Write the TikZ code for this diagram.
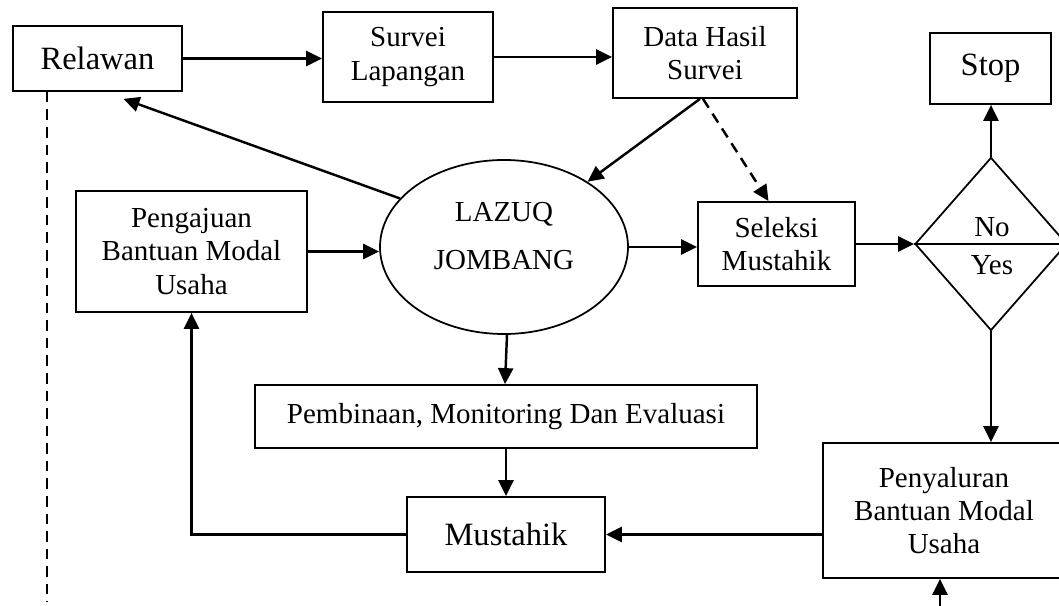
\documentclass[tikz,border=0pt]{standalone}
\usepackage{fontspec}
\setmainfont{Liberation Serif}
\usepackage{tikz}
\usetikzlibrary{shapes.geometric, arrows.meta, positioning}

\begin{document}
\begin{tikzpicture}[
    procbox/.style={rectangle, draw, line width=1pt, align=center, inner sep=2pt, font=\fontsize{16.5}{19}\selectfont},
    bigbox/.style={procbox, font=\fontsize{18.5}{22}\selectfont},
    centre/.style={ellipse, draw, line width=1pt, inner sep=0pt},
    decide/.style={diamond, draw, line width=1pt, inner sep=0pt},
    lbl/.style={font=\fontsize{16.5}{19}\selectfont, inner sep=1pt},
    flow/.style={-{Triangle[length=0.32cm, width=0.30cm]}, line width=1.4pt},
    skip/.style={flow, dashed, dash pattern=on 6pt off 4pt}]
    \clip (0,0) rectangle (21.18,12.12);

    % top row
    \node[bigbox, minimum width=3.38cm, minimum height=1.30cm] (relawan) at (1.95,10.95) {Relawan};
    \node[procbox, minimum width=3.40cm, minimum height=1.80cm] (survei) at (8.16,10.98) {Survei\\Lapangan};
    \node[procbox, minimum width=3.68cm, minimum height=1.80cm] (data) at (14.10,11.06) {Data Hasil\\Survei};
    \node[bigbox, minimum width=2.42cm, minimum height=1.42cm] (stop) at (19.81,10.75) {Stop};

    % middle row
    \node[procbox, minimum width=4.62cm, minimum height=2.42cm] (pengajuan) at (3.83,7.09) {Pengajuan\\Bantuan Modal\\Usaha};
    \node[centre, minimum width=4.96cm, minimum height=3.48cm] (lazuq) at (10.08,7.18) {};
    \node[lbl, align=center, font=\fontsize{16.5}{27}\selectfont] (lazuqtxt) at ([yshift=0.22cm]lazuq.center) {LAZUQ\\JOMBANG};
    \node[procbox, minimum width=3.14cm, minimum height=1.68cm] (seleksi) at (15.53,7.24) {Seleksi\\Mustahik};
    \node[decide, minimum width=3.04cm, minimum height=3.46cm] (decision) at (19.82,7.24) {};
    \draw[line width=1pt] (decision.west) -- (decision.east);
    \node[lbl] (no) at (19.84,7.58) {No};
    \node[lbl] (yes) at (19.84,6.82) {Yes};

    % bottom rows
    \node[procbox, minimum width=10.04cm, minimum height=1.26cm] (pembinaan) at (10.12,3.79) {Pembinaan, Monitoring Dan Evaluasi};
    \node[bigbox, minimum width=3.96cm, minimum height=1.50cm] (mustahik) at (10.12,1.43) {Mustahik};
    \node[procbox, minimum width=4.84cm, minimum height=2.70cm] (penyaluran) at (18.88,1.91) {Penyaluran\\Bantuan Modal\\Usaha};

    \coordinate (relbot) at (0.94,0.08);
    \coordinate (penbot) at (18.80,0);

    \draw[flow] (relawan.east) -- (relawan.east -| survei.west);
    \draw[flow] (survei.east) -- (survei.east -| data.west);
    \draw[flow] ([xshift=-0.1cm]data.south) -- (lazuq.38);
    \draw[skip] ([xshift=-0.04cm]data.south) -- ([xshift=-0.16cm]seleksi.north);
    \draw[flow] (lazuq.155) -- ([xshift=0.52cm, yshift=-0.14cm]relawan.south);
    \draw[flow] (pengajuan.east) -- (pengajuan.east -| lazuq.west);
    \draw[flow] (lazuq.east) -- (lazuq.east -| seleksi.west);
    \draw[flow] (seleksi.east) -- (decision.west);
    \draw[flow] (decision.north) -- (decision.north |- stop.south);
    \draw[flow] (decision.south) -- (decision.south |- penyaluran.north);
    \draw[flow] ([xshift=0.06cm]lazuq.south) -- ([xshift=0.02cm]lazuq.south |- pembinaan.north);
    \draw[flow] (pembinaan) -- (mustahik);
    \draw[flow] (penyaluran.west |- mustahik.east) -- (mustahik.east);
    \draw[flow] (mustahik.west) -| (pengajuan.south);
    \draw[line width=1.4pt, dashed, dash pattern=on 6pt off 4pt] (relbot |- relawan.south) -- (relbot);
    \draw[skip] (penbot) -- (penbot |- penyaluran.south);
\end{tikzpicture}
\end{document}
